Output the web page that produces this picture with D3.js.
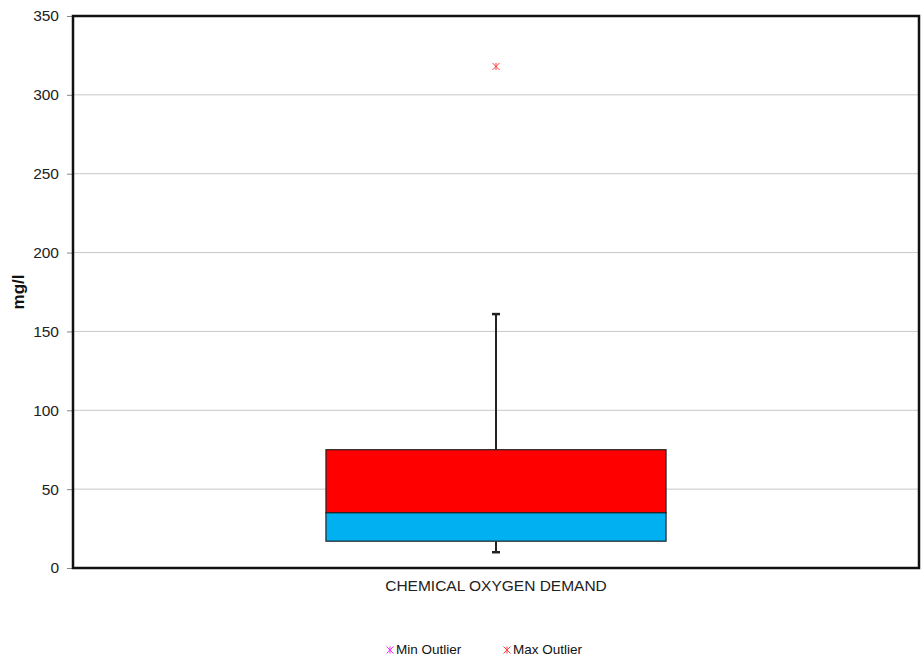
<!DOCTYPE html>
<html><head><meta charset="utf-8">
<script src="https://cdn.jsdelivr.net/npm/d3@7"></script>
<style>body{margin:0;background:#fff;}svg{display:block;font-family:"Liberation Sans",Arial,sans-serif;}</style>
</head><body><svg id="c" width="924" height="663"></svg>
<script>
const categories = ["CHEMICAL OXYGEN DEMAND"];
const whiskerMin = [10];
const q1 = [17];
const median = [35];
const q3 = [75];
const whiskerMax = [161];
const maxOutliers = [318];
const minOutliers = [];
const yTicks = [0,50,100,150,200,250,300,350];
const legendItems = [{label:"Min Outlier", color:"#ff33ff"},{label:"Max Outlier", color:"#ff4040"}];

const svg = d3.select("#c");
const L=73, T=16, R=919, B=568;
const x = d3.scaleBand().domain(categories).range([L,R]).paddingInner(0).paddingOuter(0);
const y = d3.scaleLinear().domain([0,350]).range([B,T]);

// gridlines
svg.append("g").selectAll("line").data(yTicks.filter(d=>d>0&&d<350)).join("line")
  .attr("x1",L).attr("x2",R).attr("y1",d=>y(d)).attr("y2",d=>y(d))
  .attr("stroke","#c8c8c8").attr("stroke-width",1);

// y axis
const ya = svg.append("g").attr("transform",`translate(${L},0)`)
  .call(d3.axisLeft(y).tickValues(yTicks).tickSize(6).tickPadding(8));
ya.select(".domain").remove();
ya.selectAll(".tick line").attr("stroke","#888");
ya.selectAll(".tick text").attr("font-size",15.5).attr("fill","#222").attr("font-family","Liberation Sans, Arial, sans-serif");

// frame
svg.append("rect").attr("x",L).attr("y",T).attr("width",R-L).attr("height",B-T)
  .attr("fill","none").attr("stroke","#111").attr("stroke-width",2.5);

// x axis labels
const xa = svg.append("g").attr("transform",`translate(0,${B})`)
  .call(d3.axisBottom(x).tickSize(0).tickPadding(12));
xa.select(".domain").remove();
xa.selectAll(".tick text").attr("font-size",15.5).attr("fill","#222").attr("font-family","Liberation Sans, Arial, sans-serif");

// y title
svg.append("text").attr("transform",`translate(24,${(T+B)/2}) rotate(-90)`)
  .attr("text-anchor","middle").attr("font-size",17).attr("font-weight","bold").attr("fill","#111").text("mg/l");

const bw = (R-L)*0.402;
categories.forEach((c,i)=>{
  const cx = x(c)+x.bandwidth()/2;
  svg.append("line").attr("x1",cx).attr("x2",cx).attr("y1",y(q3[i])).attr("y2",y(whiskerMax[i])).attr("stroke","#222").attr("stroke-width",2);
  svg.append("line").attr("x1",cx).attr("x2",cx).attr("y1",y(q1[i])).attr("y2",y(whiskerMin[i])).attr("stroke","#222").attr("stroke-width",2);
  [whiskerMax[i], whiskerMin[i]].forEach(v=>{
    svg.append("line").attr("x1",cx-4).attr("x2",cx+4).attr("y1",y(v)).attr("y2",y(v)).attr("stroke","#222").attr("stroke-width",2.5);
  });
  svg.append("rect").attr("x",cx-bw/2).attr("y",y(q3[i])).attr("width",bw).attr("height",y(median[i])-y(q3[i]))
    .attr("fill","#ff0000").attr("stroke","#222").attr("stroke-width",1.2);
  svg.append("rect").attr("x",cx-bw/2).attr("y",y(median[i])).attr("width",bw).attr("height",y(q1[i])-y(median[i]))
    .attr("fill","#00b0f0").attr("stroke","#222").attr("stroke-width",1.2);
  maxOutliers.forEach(v=>drawMark(cx,y(v),"#ff4040"));
  minOutliers.forEach(v=>drawMark(cx,y(v),"#ff33ff"));
});

function drawMark(cx,cy,color){
  const s=3.5;
  svg.append("path").attr("d",`M${cx-s},${cy-s}L${cx+s},${cy+s}M${cx-s},${cy+s}L${cx+s},${cy-s}M${cx},${cy-s}L${cx},${cy+s}`)
    .attr("stroke",color).attr("stroke-width",1).attr("fill","none");
}

// legend
const lx=[390,507];
legendItems.forEach((d,i)=>{
  drawMark(lx[i],650,d.color);
  svg.append("text").attr("x",lx[i]+6).attr("y",654).attr("font-size",13.5).attr("fill","#111").text(d.label);
});
</script></body></html>
